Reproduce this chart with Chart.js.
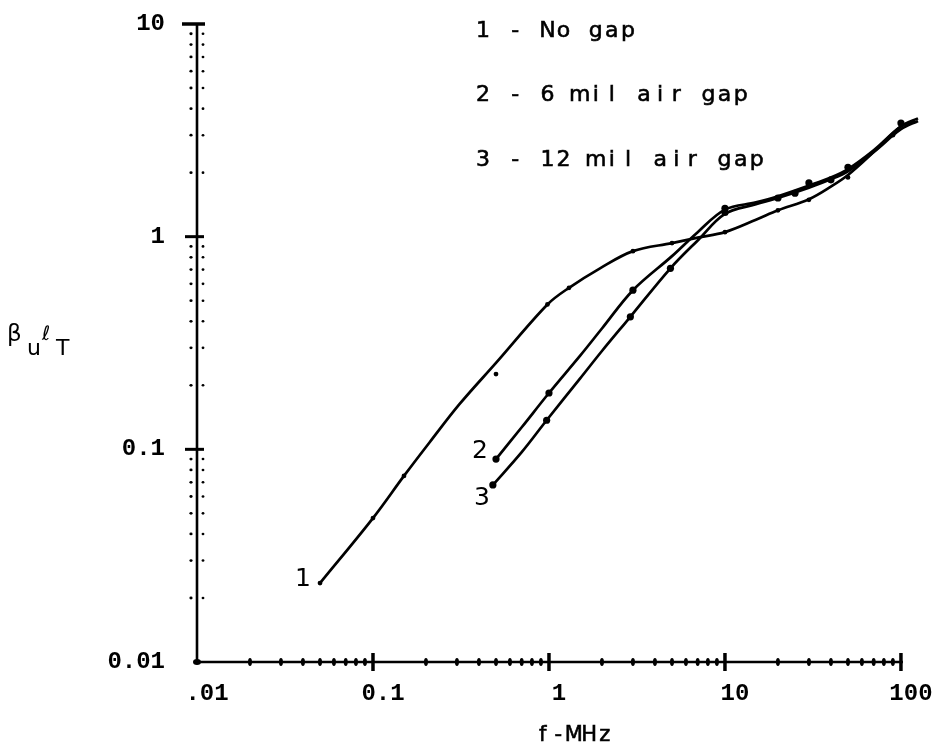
<!DOCTYPE html>
<html>
<head>
<meta charset="utf-8">
<title>beta_u l_T versus frequency</title>
<script src="https://cdn.jsdelivr.net/npm/chart.js@4.4.1/dist/chart.umd.min.js"></script>
<style>
  html, body { margin: 0; padding: 0; background: #fff; }
  #wrap { width: 940px; height: 751px; position: relative; }
</style>
</head>
<body>
<div id="wrap"><canvas id="chart"></canvas></div>
<script>
// Decade ticks on both log axes
const xTicks = [0.01, 0.1, 1, 10, 100];
const xTickLabels = ['.01', '0.1', '1', '10', '100'];
const yTicks = [0.01, 0.1, 1, 10];
const yTickLabels = ['0.01', '0.1', '1', '10'];

// Curve 1 - no gap (frequency in MHz, beta_u * l_T)
const noGapFreq  = [0.05, 0.1, 0.15, 0.21, 0.31, 0.5, 0.98, 1.3, 1.95, 3.0, 5.0, 7.0, 10, 15, 20, 30, 40, 50, 70, 100, 125];
const noGapValue = [0.0235, 0.0475, 0.075, 0.108, 0.163, 0.255, 0.48, 0.575, 0.71, 0.855, 0.933, 0.99, 1.05, 1.2, 1.33, 1.5, 1.72, 1.95, 2.5, 3.3, 3.6];
const noGapPtFreq  = [0.05, 0.1, 0.15, 0.5, 0.98, 1.3, 3.0, 5.0, 10, 20, 30, 50, 90];
const noGapPtValue = [0.0235, 0.0475, 0.075, 0.226, 0.48, 0.575, 0.855, 0.933, 1.05, 1.33, 1.49, 1.9, 3.0];

// Curve 2 - 6 mil air gap
const gap6Freq  = [0.5, 0.7, 1.0, 1.5, 2.0, 3.0, 5.0, 7.0, 10, 15, 20, 30, 40, 50, 70, 100, 120];
const gap6Value = [0.09, 0.127, 0.184, 0.275, 0.37, 0.56, 0.81, 1.05, 1.34, 1.45, 1.55, 1.74, 1.9, 2.08, 2.55, 3.3, 3.5];
const gap6PtFreq  = [0.5, 1.0, 3.0, 10, 20, 30, 50, 100];
const gap6PtValue = [0.09, 0.184, 0.56, 1.36, 1.52, 1.79, 2.12, 3.42];

// Curve 3 - 12 mil air gap
const gap12Freq  = [0.48, 0.7, 0.97, 1.5, 2.0, 2.9, 4.9, 7.0, 10, 15, 20, 30, 40, 50, 70, 100, 125];
const gap12Value = [0.068, 0.097, 0.137, 0.215, 0.29, 0.42, 0.71, 0.96, 1.28, 1.42, 1.52, 1.7, 1.86, 2.03, 2.5, 3.2, 3.5];
const gap12PtFreq  = [0.48, 0.97, 2.9, 4.9, 10, 25, 40];
const gap12PtValue = [0.068, 0.137, 0.42, 0.71, 1.3, 1.6, 1.85];

const legendLines = ['1 - No gap', '2 - 6 mil air gap', '3 - 12 mil air gap'];
const curveNames = ['1', '2', '3'];

const toPoints = (xs, ys) => xs.map((x, i) => ({ x: x, y: ys[i] }));

const tickFont = { family: '"Liberation Mono", "DejaVu Sans Mono", monospace', size: 24, weight: 'bold' };
const textFont = '"DejaVu Sans", "Liberation Sans", sans-serif';

function curve(xs, ys) {
    return {
        data: toPoints(xs, ys),
        showLine: true,
        borderColor: '#000',
        borderWidth: 2.7,
        pointRadius: 0,
        tension: 0.35,
        fill: false
    };
}

function dots(xs, ys, r) {
    return {
        data: toPoints(xs, ys),
        showLine: false,
        pointRadius: r,
        pointBackgroundColor: '#000',
        pointBorderWidth: 0
    };
}

// text drawn on a fixed pitch, like the typed lettering on the plot
function typed(ctx, text, x, y, pitch) {
    [...text].forEach((ch, i) => {
        ctx.fillText(ch, x + (i + 0.5) * pitch, y);
        ctx.strokeText(ch, x + (i + 0.5) * pitch, y);
    });
}

const frame = {
    id: 'frame',
    afterDraw(chart) {
        const ctx = chart.ctx;
        const xs = chart.scales.x;
        const ys = chart.scales.y;
        const x0 = xs.getPixelForValue(xTicks[0]);
        const x1 = xs.getPixelForValue(xTicks[xTicks.length - 1]);
        const yb = ys.getPixelForValue(yTicks[0]);
        const yt = ys.getPixelForValue(yTicks[yTicks.length - 1]);

        ctx.save();
        ctx.strokeStyle = '#000';
        ctx.fillStyle = '#000';

        const seg = (ax, ay, bx, by, w) => {
            ctx.lineWidth = w;
            ctx.beginPath();
            ctx.moveTo(ax, ay);
            ctx.lineTo(bx, by);
            ctx.stroke();
        };
        const dot = (x, y, rx, ry) => {
            ctx.beginPath();
            ctx.ellipse(x, y, rx, ry, 0, 0, Math.PI * 2);
            ctx.fill();
        };

        // axes
        seg(x0, yt - 1, x0, yb + 1, 2.6);
        seg(x0 - 1, yb, x1 + 2, yb, 2.6);
        // cap at the top of the y axis
        seg(x0 - 15, yt, x0 + 8, yt, 3.5);

        // y axis: decade bars and dotted minor ticks on both sides
        yTicks.slice(1, -1).forEach(v => {
            const y = ys.getPixelForValue(v);
            seg(x0 - 12, y, x0 + 7, y, 3);
        });
        yTicks.slice(0, -1).forEach(v => {
            for (let m = 2; m <= 9; m++) {
                const y = ys.getPixelForValue(v * m);
                dot(x0 - 6, y, 1.6, 1.4);
                dot(x0 + 6, y, 1.4, 1.3);
            }
        });

        // x axis: decade bars and small minor marks
        xTicks.slice(1).forEach(v => {
            const x = xs.getPixelForValue(v);
            seg(x, yb - 9, x, yb + 9, 3.5);
        });
        xTicks.slice(0, -1).forEach(v => {
            for (let m = 2; m <= 9; m++) {
                const x = xs.getPixelForValue(v * m);
                dot(x, yb, 2, 4);
            }
        });
        dot(x0, yb, 4, 3);

        // legend lines
        ctx.font = '22px ' + textFont;
        ctx.textAlign = 'center';
        ctx.textBaseline = 'alphabetic';
        ctx.lineWidth = 0.6;
        typed(ctx, legendLines[0], 475, 37, 16.1);
        typed(ctx, legendLines[1], 475, 101, 16.1);
        typed(ctx, legendLines[2], 475, 166, 16.1);

        // curve numbers next to the low-frequency ends
        ctx.font = '25px ' + textFont;
        const starts = [
            [noGapFreq[0], noGapValue[0], -17, 3],
            [gap6Freq[0], gap6Value[0], -16, -1],
            [gap12Freq[0], gap12Value[0], -11, 20]
        ];
        starts.forEach((s, i) => {
            const px = xs.getPixelForValue(s[0]);
            const py = ys.getPixelForValue(s[1]);
            ctx.fillText(curveNames[i], px + s[2], py + s[3]);
        });

        // x axis title
        ctx.font = '21px ' + textFont;
        typed(ctx, 'f-MHz', 535, 741, 15.5);

        // y axis title: beta_u l_T
        ctx.textAlign = 'left';
        ctx.font = '23px ' + textFont;
        ctx.fillText('\u03B2', 7, 341);
        ctx.font = '22px ' + textFont;
        ctx.fillText('u', 27, 355);
        ctx.font = '20px ' + textFont;
        ctx.fillText('\u2113', 42, 340);
        ctx.font = '22px ' + textFont;
        ctx.fillText('T', 56, 355);

        ctx.restore();
    }
};

new Chart(document.getElementById('chart'), {
    type: 'scatter',
    data: {
        datasets: [
            curve(noGapFreq, noGapValue),
            curve(gap6Freq, gap6Value),
            curve(gap12Freq, gap12Value),
            dots(noGapPtFreq, noGapPtValue, 2.4),
            dots(gap6PtFreq, gap6PtValue, 3.6),
            dots(gap12PtFreq, gap12PtValue, 3.6)
        ]
    },
    options: {
        responsive: true,
        maintainAspectRatio: false,
        animation: false,
        events: [],
        layout: { padding: { top: 24, right: 19, bottom: 0, left: 0 } },
        plugins: {
            legend: { display: false },
            tooltip: { enabled: false },
            title: { display: false }
        },
        scales: {
            x: {
                type: 'logarithmic',
                min: 0.01,
                max: 130,
                afterBuildTicks: s => { s.ticks = xTicks.map(v => ({ value: v })); },
                afterFit: s => { s.height = 89; },
                // tick marks are drawn by the frame plugin; tickLength only spaces the labels
                grid: { display: false, drawTicks: true, tickLength: 18 },
                border: { display: false },
                ticks: {
                    autoSkip: false,
                    maxRotation: 0,
                    padding: 0,
                    labelOffset: 10,
                    color: '#000',
                    font: tickFont,
                    callback: (v, i) => xTickLabels[i]
                }
            },
            y: {
                type: 'logarithmic',
                min: 0.01,
                max: 10,
                afterBuildTicks: s => { s.ticks = yTicks.map(v => ({ value: v })); },
                afterFit: s => { s.width = 197; },
                grid: { display: false, drawTicks: true, tickLength: 30 },
                border: { display: false },
                ticks: {
                    autoSkip: false,
                    padding: 2,
                    color: '#000',
                    font: tickFont,
                    callback: (v, i) => yTickLabels[i]
                }
            }
        }
    },
    plugins: [frame]
});
</script>
</body>
</html>
